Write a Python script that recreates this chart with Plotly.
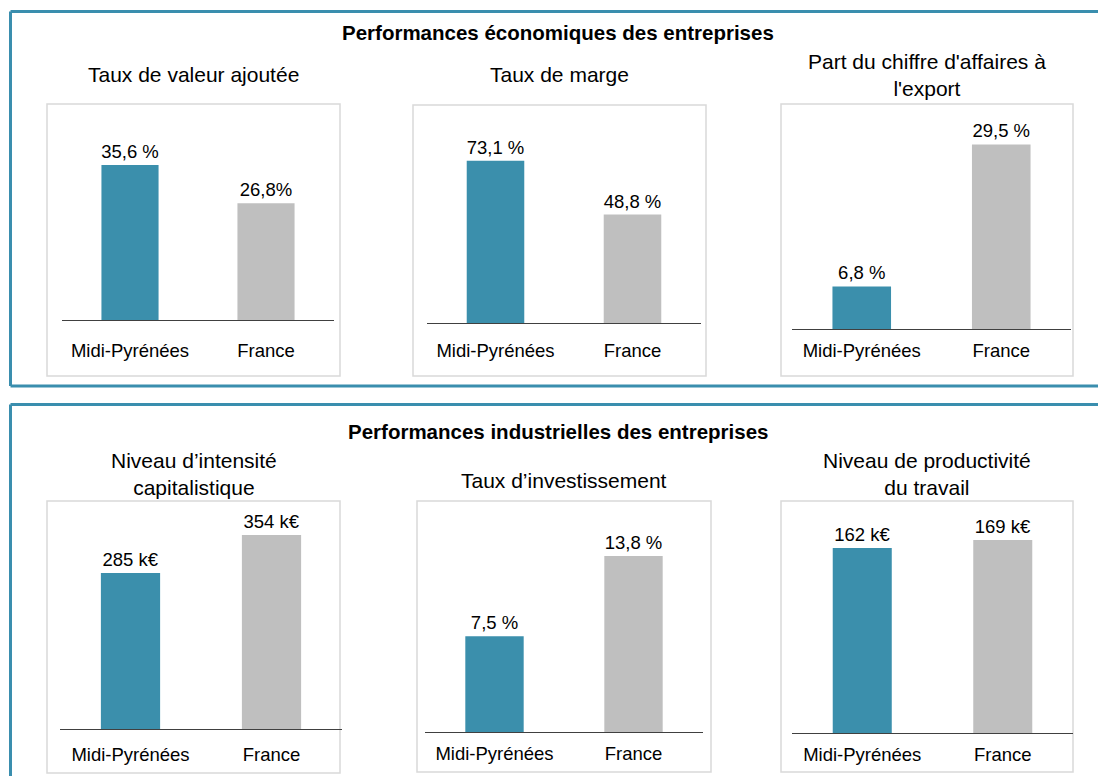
import plotly.graph_objects as go

# ─────────────────────────────────────────────────────────────────────────────
# Data
# ─────────────────────────────────────────────────────────────────────────────
regions = ["Midi-Pyrénées", "France"]

taux_valeur_ajoutee = [35.6, 26.8]
taux_marge = [73.1, 48.8]
part_export = [6.8, 29.5]
intensite_capitalistique = [285, 354]
taux_investissement = [7.5, 13.8]
productivite_travail = [162, 169]

labels_valeur_ajoutee = ["35,6 %", "26,8%"]
labels_marge = ["73,1 %", "48,8 %"]
labels_export = ["6,8 %", "29,5 %"]
labels_intensite = ["285 k€", "354 k€"]
labels_investissement = ["7,5 %", "13,8 %"]
labels_productivite = ["162 k€", "169 k€"]

titles = [
    "Taux de valeur ajoutée",
    "Taux de marge",
    "Part du chiffre d'affaires à<br>l'export",
    "Niveau d’intensité<br>capitalistique",
    "Taux d’investissement",
    "Niveau de productivité<br>du travail",
]
headers = [
    "Performances économiques des entreprises",
    "Performances industrielles des entreprises",
]

COLORS = {
    "teal": "#3B8FAC",
    "gray": "#BFBFBF",
    "frame": "#3A8EAE",
    "box": "#D9D9D9",
    "axis": "#404040",
}
FONT = "Liberation Sans, Arial, sans-serif"
W, H = 1098, 776


def px(x):
    return x / W


def py(y):
    return 1 - y / H


# ─────────────────────────────────────────────────────────────────────────────
# Layout of each small chart (pixel positions)
# ─────────────────────────────────────────────────────────────────────────────
charts = [
    # values, labels, axis x0, x1, y_top, baseline, y max, standoff, box, title y
    (taux_valeur_ajoutee, labels_valeur_ajoutee, 62, 334, 110, 320, 48.2, 14, (47, 104, 340, 376), 75),
    (taux_marge, labels_marge, 427, 701, 110, 323, 95.9, 11, (413, 105, 706, 376), 75),
    (part_export, labels_export, 792, 1071, 110, 329, 35.0, 5, (781, 104, 1073, 376), 75),
    (intensite_capitalistique, labels_intensite, 60, 342, 505, 729, 409, 9, (47, 501, 340, 773), 474),
    (taux_investissement, labels_investissement, 425, 703, 505, 732, 17.8, 5, (417, 501, 711, 772), 480),
    (productivite_travail, labels_productivite, 792, 1073, 505, 733, 199.6, 5, (781, 501, 1073, 772), 474),
]

fig = go.Figure()
shapes = []
annotations = []
layout_axes = {}

for i, (vals, labs, x0, x1, ytop, base, ymax, standoff, box, ty) in enumerate(charts):
    n = "" if i == 0 else str(i + 1)
    fig.add_trace(go.Bar(
        x=regions,
        y=vals,
        text=labs,
        textposition="outside",
        textfont=dict(size=18.5, color="#000000", family=FONT),
        constraintext="none",
        cliponaxis=False,
        marker=dict(color=[COLORS["teal"], COLORS["gray"]], line=dict(width=0)),
        xaxis="x" + n,
        yaxis="y" + n,
        hoverinfo="skip",
        showlegend=False,
    ))
    layout_axes["xaxis" + n] = dict(
        domain=[px(x0), px(x1)],
        anchor="y" + n,
        showline=True,
        linecolor=COLORS["axis"],
        linewidth=1.2,
        ticks="",
        ticklabelstandoff=standoff,
        tickfont=dict(size=18.5, color="#000000", family=FONT),
        showgrid=False,
        zeroline=False,
        fixedrange=True,
    )
    layout_axes["yaxis" + n] = dict(
        domain=[py(base), py(ytop)],
        anchor="x" + n,
        range=[0, ymax],
        visible=False,
        showgrid=False,
        zeroline=False,
        fixedrange=True,
    )
    bx0, by0, bx1, by1 = box
    shapes.append(dict(
        type="rect", xref="paper", yref="paper",
        x0=px(bx0), x1=px(bx1), y0=py(by1), y1=py(by0),
        line=dict(color=COLORS["box"], width=1.5),
        layer="below",
    ))
    annotations.append(dict(
        x=px((bx0 + bx1) / 2), y=py(ty), xref="paper", yref="paper",
        text=titles[i], showarrow=False, xanchor="center", yanchor="middle",
        font=dict(size=21, color="#000000", family=FONT),
    ))

# Outer teal frames: open on the right (they run off the page)
frame_line = dict(color=COLORS["frame"], width=3)
for y0, y1 in [(11.5, 386), (404.5, 790)]:
    for a, b in [((10.5, y0), (W, y0)), ((10.5, y0), (10.5, y1)), ((10.5, y1), (W, y1))]:
        shapes.append(dict(
            type="line", xref="paper", yref="paper",
            x0=px(a[0]), y0=py(a[1]), x1=px(b[0]), y1=py(b[1]),
            line=frame_line, layer="below",
        ))

for text, y in zip(headers, [33, 431]):
    annotations.append(dict(
        x=px(558), y=py(y), xref="paper", yref="paper",
        text="<b>" + text + "</b>", showarrow=False,
        xanchor="center", yanchor="middle",
        font=dict(size=20.5, color="#000000", family=FONT),
    ))

fig.update_layout(
    width=W,
    height=H,
    margin=dict(l=0, r=0, t=0, b=0),
    paper_bgcolor="white",
    plot_bgcolor="white",
    bargap=0.58,
    font=dict(family=FONT, color="#000000"),
    shapes=shapes,
    annotations=annotations,
    **layout_axes,
)

# page margin off so the figure sits at the window's top-left corner
fig.write_html(
    "out.html",
    config={"displayModeBar": False},
    post_script="document.body.style.margin='0';document.body.style.overflow='hidden';",
)
